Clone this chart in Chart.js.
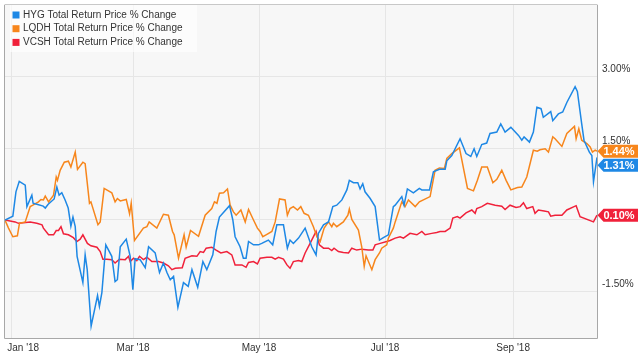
<!DOCTYPE html>
<html><head><meta charset="utf-8">
<script src="https://cdn.jsdelivr.net/npm/chart.js@4.4.1/dist/chart.umd.min.js"></script>
<style>html,body{margin:0;padding:0;background:#fff;}canvas{display:block;}</style>
</head><body>
<canvas id="c" width="640" height="358"></canvas>
<script>
// Days since 2018-01-01; values in % change
const seriesLabels = ["HYG Total Return Price % Change", "LQDH Total Return Price % Change", "VCSH Total Return Price % Change"];
const seriesColors = ["#1e88e5", "#f7861c", "#f0213a"];

const hygDays = [-3,0.8,2.3,3.9,6.8,7.6,10.0,10.6,12.4,15.5,16.5,17.9,20.8,22.1,23.2,24.5,26.1,27.6,28.9,29.9,31.0,31.9,34.7,35.8,36.8,38.7,41.8,42.7,43.9,45.8,48.7,50.3,51.4,52.8,55.7,57.6,58.9,60.0,62.4,64.9,66.5,69.7,71.8,73.7,75.4,77.0,78.6,80.7,83.4,85.7,87.5,90.3,92.8,94.7,97.6,99.2,100.8,105.7,107.3,108.4,110.8,112.4,113.7,114.9,117.3,119.7,121.3,124.5,126.6,128.6,131.8,133.7,135.0,136.6,139.1,142.3,145.5,147.6,148.7,151.2,153.6,155.7,157.6,160.1,162.5,163.7,165.7,167.8,168.9,170.2,171.3,173.8,176.2,178.3,180.2,182.6,185.0,185.9,189.1,190.2,191.8,194.7,197.6,198.8,202.5,204.4,207.3,210.1,210.9,213.3,217.3,220.2,222.5,224.1,225.4,227.8,230.2,231.8,235.1,237.0,239.1,241.9,245.6,247.2,248.3,250.9,252.8,254.5,256.5,257.6,261.2,262.2,264.9,267.0,269.0,273.0,274.1,276.2,277.3,279.9,281.1,281.9,283.6];
const hygValues = [0.00,0.08,0.59,0.81,0.73,0.28,0.52,0.35,0.33,0.29,0.25,0.33,0.44,0.69,0.52,0.57,0.42,0.25,-0.13,0.06,-0.14,-0.76,-1.31,-0.73,-1.04,-2.22,-1.58,-1.81,-1.52,-0.52,-0.76,-1.29,-1.25,-0.56,-0.40,-0.76,-1.46,-0.81,-0.83,-1.00,-0.56,-0.69,-1.10,-0.90,-1.10,-1.25,-1.18,-1.83,-1.31,-1.39,-1.04,-1.41,-0.87,-1.04,-0.73,-0.24,0.06,0.30,0.00,-0.35,-0.56,-0.80,-0.80,-0.45,-0.52,-0.52,-0.49,-0.42,-0.52,-0.10,-0.10,-0.59,-0.42,-0.49,-0.38,-0.17,-0.56,-0.73,-0.28,-0.10,-0.04,0.28,0.31,0.42,0.63,0.83,0.78,0.78,0.65,0.76,0.59,0.45,0.28,-0.42,-0.37,-0.31,0.28,0.31,0.49,0.31,0.65,0.57,0.66,0.63,0.63,1.01,1.06,1.06,1.24,1.35,1.70,1.39,1.33,1.49,1.33,1.58,1.61,1.81,1.84,2.01,1.84,1.94,1.77,1.67,1.74,1.63,1.84,2.36,2.33,2.15,2.27,2.08,2.22,2.26,2.46,2.79,2.69,2.01,1.67,1.42,1.35,0.80,1.31];

const lqdhDays = [-3,-1.3,0.8,3.0,4.0,6.8,9.2,10.5,13.2,14.4,15.6,16.5,18.1,20.5,21.8,22.4,23.7,25.7,27.7,28.9,31.0,32.1,34.7,35.8,37.9,38.6,42.0,43.1,45.0,48.7,50.3,51.4,52.8,55.7,57.3,58.1,59.7,64.0,65.7,66.8,70.5,73.7,76.1,78.1,78.9,81.0,83.7,84.7,86.8,90.7,93.9,97.1,98.4,99.6,100.8,102.8,104.7,106.0,107.6,108.9,111.2,113.3,114.9,117.3,119.2,120.5,121.8,123.8,126.2,127.8,129.9,132.6,133.7,135.0,136.6,138.6,140.2,141.8,143.9,146.3,148.0,149.6,151.5,153.6,155.2,156.0,157.6,160.8,163.0,163.7,164.9,168.1,169.7,170.9,171.8,174.6,176.2,178.3,179.4,181.8,182.6,185.0,185.9,189.1,190.7,192.3,195.6,197.6,202.8,205.2,207.3,209.7,210.9,213.3,217.0,220.9,223.8,225.7,227.8,230.5,233.2,235.1,237.5,239.6,241.9,245.1,247.2,249.6,252.8,254.7,256.0,258.5,260.1,262.2,263.3,266.6,269.0,272.7,273.5,274.8,276.2,278.7,280.3,281.4,282.7,283.6];
const lqdhValues = [0.00,-0.17,-0.35,-0.33,-0.07,-0.04,0.28,0.31,0.38,0.43,0.42,0.50,0.38,0.52,0.90,0.83,1.04,1.21,1.23,1.11,1.42,1.06,1.21,1.18,0.35,0.38,-0.10,-0.04,0.66,0.57,0.38,0.45,0.40,0.43,0.13,0.35,-0.43,-0.17,-0.14,-0.04,-0.17,0.12,0.10,-0.24,-0.31,-0.80,-0.31,-0.57,-0.22,-0.34,0.10,0.24,0.38,0.35,0.56,0.57,0.65,0.31,0.17,0.10,0.21,-0.04,0.22,0.00,-0.17,-0.24,-0.35,-0.30,-0.24,-0.04,0.44,0.42,0.10,0.24,0.28,0.21,0.28,0.14,0.10,-0.14,-0.35,-0.45,-0.17,-0.04,-0.14,-0.07,-0.14,-0.04,0.10,0.23,0.01,-0.21,-0.56,-0.97,-0.75,-1.04,-0.83,-0.69,-0.59,-0.52,-0.38,-0.17,-0.04,0.38,0.28,0.42,0.28,0.38,0.49,1.04,1.09,1.08,1.29,1.39,1.51,0.66,0.61,0.83,1.11,1.11,0.78,0.85,1.04,0.83,0.63,0.68,0.69,0.90,1.46,1.44,1.47,1.49,1.42,1.74,1.70,1.54,1.81,1.96,1.70,1.91,1.67,1.60,1.53,1.42,1.46,1.44];

const vcshDays = [-3,1.9,3.5,5.9,9.2,12.4,14.9,15.6,18.1,20.5,21.8,22.9,24.1,25.3,27.7,30.1,31.8,33.4,34.7,36.9,38.6,41.5,43.1,44.4,46.3,48.7,50.3,52.4,55.2,56.8,57.6,59.2,60.8,62.1,64.0,65.7,68.1,71.3,73.7,76.1,77.8,79.4,82.8,84.2,87.5,89.9,91.5,93.1,94.4,97.1,99.2,101.5,104.4,106.8,108.4,111.7,113.7,114.9,117.3,119.2,120.5,123.8,126.2,127.8,129.4,131.8,133.5,135.0,136.6,139.1,140.7,142.3,144.7,147.6,149.2,151.2,153.6,155.2,156.3,158.4,160.8,163.3,164.9,167.3,169.7,172.9,175.1,176.2,178.6,181.8,183.4,185.9,188.3,189.9,193.1,196.4,198.8,200.4,203.6,206.0,207.6,210.1,212.5,213.8,216.0,217.3,220.2,223.0,224.6,225.4,227.8,230.5,234.3,237.5,239.1,241.5,244.4,246.4,248.0,249.6,252.5,253.6,255.2,258.0,260.1,261.2,263.3,266.6,269.0,273.5,275.4,281.9,283.6];
const vcshValues = [0.00,-0.04,-0.07,-0.06,-0.04,-0.07,-0.10,-0.17,-0.31,-0.31,-0.22,-0.22,-0.14,-0.29,-0.31,-0.37,-0.45,-0.40,-0.31,-0.49,-0.54,-0.57,-0.66,-0.82,-0.82,-0.83,-0.90,-0.82,-0.83,-0.76,-0.87,-0.80,-0.85,-0.76,-0.83,-0.78,-0.87,-0.87,-0.90,-0.96,-1.04,-1.01,-1.00,-0.80,-0.75,-0.76,-0.66,-0.68,-0.59,-0.57,-0.63,-0.69,-0.66,-0.73,-0.94,-0.94,-0.99,-0.89,-0.87,-0.92,-0.80,-0.78,-0.78,-0.82,-0.78,-0.82,-0.94,-1.01,-0.87,-0.85,-0.87,-0.69,-0.49,-0.24,-0.52,-0.59,-0.59,-0.64,-0.59,-0.66,-0.68,-0.69,-0.59,-0.63,-0.61,-0.63,-0.63,-0.52,-0.49,-0.45,-0.43,-0.38,-0.35,-0.38,-0.28,-0.31,-0.24,-0.31,-0.28,-0.26,-0.24,-0.24,-0.17,0.04,0.07,0.04,0.15,0.21,0.14,0.24,0.28,0.35,0.31,0.29,0.22,0.31,0.26,0.28,0.36,0.24,0.28,0.14,0.21,0.19,0.17,0.08,0.10,0.10,0.21,0.30,0.07,-0.04,0.10];

const xTickDays = [0, 59, 120, 181, 243];
const xTickLabels = ["Jan '18", "Mar '18", "May '18", "Jul '18", "Sep '18"];
const yTickValues = [-1.5, 0, 1.5, 3];
const yTickLabels = ["-1.50%", "", "1.50%", "3.00%"];

const FONT = "'Liberation Sans', Arial, Helvetica, sans-serif";
Chart.defaults.font.family = FONT;

const toPts = (d, v) => d.map((x, i) => ({x, y: v[i]}));
const allSeries = [[hygDays, hygValues], [lqdhDays, lqdhValues], [vcshDays, vcshValues]];

const plotDeco = {
  id: 'plotDeco',
  beforeDraw(chart) {
    const {ctx, chartArea: a} = chart;
    ctx.save();
    ctx.fillStyle = '#f7f7f7';
    ctx.fillRect(a.left, a.top, a.right - a.left, a.bottom - a.top);
    ctx.restore();
    const xs = chart.scales.x;
    const items = xs.getLabelItems();
    if (items.length && !items[0]._shifted) {
      items[0].options.translation[0] += 12;
      items[0]._shifted = true;
    }
  },
  afterDatasetsDraw(chart) {
    const {ctx, chartArea: a} = chart;
    ctx.save();
    // legend
    ctx.fillStyle = 'rgba(255,255,255,0.65)';
    ctx.fillRect(a.left + 5, a.top, 187, 47);
    ctx.font = '10px ' + FONT;
    ctx.textBaseline = 'middle';
    ctx.textAlign = 'left';
    chart.data.datasets.forEach((ds, i) => {
      const cy = a.top + 10 + i * 13.7;
      ctx.fillStyle = ds.borderColor;
      ctx.fillRect(a.left + 7.5, cy - 3.5, 7, 7);
      ctx.fillStyle = '#333';
      ctx.fillText(ds.label, a.left + 18, cy);
    });
    // border
    ctx.lineWidth = 1;
    ctx.strokeStyle = '#a8a8a8';
    ctx.beginPath();
    ctx.moveTo(a.left - 0.5, a.top);
    ctx.lineTo(a.left - 0.5, a.bottom + 0.5);
    ctx.lineTo(a.right + 0.5, a.bottom + 0.5);
    ctx.lineTo(a.right + 0.5, a.top);
    ctx.stroke();
    ctx.strokeStyle = '#c8c8c8';
    ctx.beginPath();
    ctx.moveTo(a.left - 0.5, a.top - 0.5);
    ctx.lineTo(a.right + 0.5, a.top - 0.5);
    ctx.stroke();
    ctx.restore();
  },
  afterDraw(chart) {
    const {ctx, chartArea: a} = chart;
    const ys = chart.scales.y;
    const flags = chart.data.datasets.map(ds => {
      const last = ds.data[ds.data.length - 1].y;
      return {y: ys.getPixelForValue(last), text: last.toFixed(2) + '%', color: ds.borderColor};
    }).sort((p, q) => p.y - q.y);
    for (let i = 1; i < flags.length; i++) {
      if (flags[i].y < flags[i - 1].y + 14) flags[i].y = flags[i - 1].y + 14;
    }
    ctx.save();
    ctx.font = 'bold 11px ' + FONT;
    ctx.textAlign = 'center';
    ctx.textBaseline = 'middle';
    flags.forEach(f => {
      const tip = a.right + 0.5, neck = a.right + 6.5, right = 638, h = 6.5;
      ctx.fillStyle = f.color;
      ctx.beginPath();
      ctx.moveTo(tip, f.y);
      ctx.lineTo(neck, f.y - h);
      ctx.lineTo(right, f.y - h);
      ctx.lineTo(right, f.y + h);
      ctx.lineTo(neck, f.y + h);
      ctx.closePath();
      ctx.fill();
      ctx.fillStyle = '#fff';
      ctx.fillText(f.text, 619, f.y + 0.5);
    });
    ctx.restore();
  }
};

new Chart(document.getElementById('c'), {
  type: 'line',
  data: {
    datasets: seriesLabels.map((label, i) => ({
      label,
      data: toPts(allSeries[i][0], allSeries[i][1]),
      borderColor: seriesColors[i],
      backgroundColor: seriesColors[i],
      borderWidth: 1.5,
      pointRadius: 0,
      tension: 0,
      fill: false
    }))
  },
  options: {
    responsive: false,
    animation: false,
    layout: {padding: {left: 5, top: 5, right: 0, bottom: 0}},
    plugins: {legend: {display: false}, tooltip: {enabled: false}},
    scales: {
      x: {
        type: 'linear',
        min: -3,
        max: 283.6,
        afterBuildTicks: ax => { ax.ticks = xTickDays.map(v => ({value: v})); },
        afterFit: ax => { ax.height = 20; ax.paddingLeft = 0; ax.paddingRight = 0; },
        grid: {color: '#e6e6e6', drawTicks: false},
        border: {display: false},
        ticks: {
          autoSkip: false, maxRotation: 0, padding: 4,
          color: '#333', font: {size: 10, family: FONT},
          callback: v => { const i = xTickDays.indexOf(v); return i >= 0 ? xTickLabels[i] : ''; }
        }
      },
      y: {
        position: 'right',
        min: -2.47,
        max: 4.5,
        afterBuildTicks: ax => { ax.ticks = yTickValues.map(v => ({value: v})); },
        afterFit: ax => { ax.width = 43; ax.paddingTop = 0; ax.paddingBottom = 0; },
        grid: {color: '#e6e6e6', drawTicks: false},
        border: {display: false},
        ticks: {
          padding: 5, labelOffset: -7,
          color: '#333', font: {size: 10, family: FONT},
          callback: v => { const i = yTickValues.indexOf(v); return i >= 0 ? yTickLabels[i] : ''; }
        }
      }
    }
  },
  plugins: [plotDeco]
});
</script>
</body></html>
